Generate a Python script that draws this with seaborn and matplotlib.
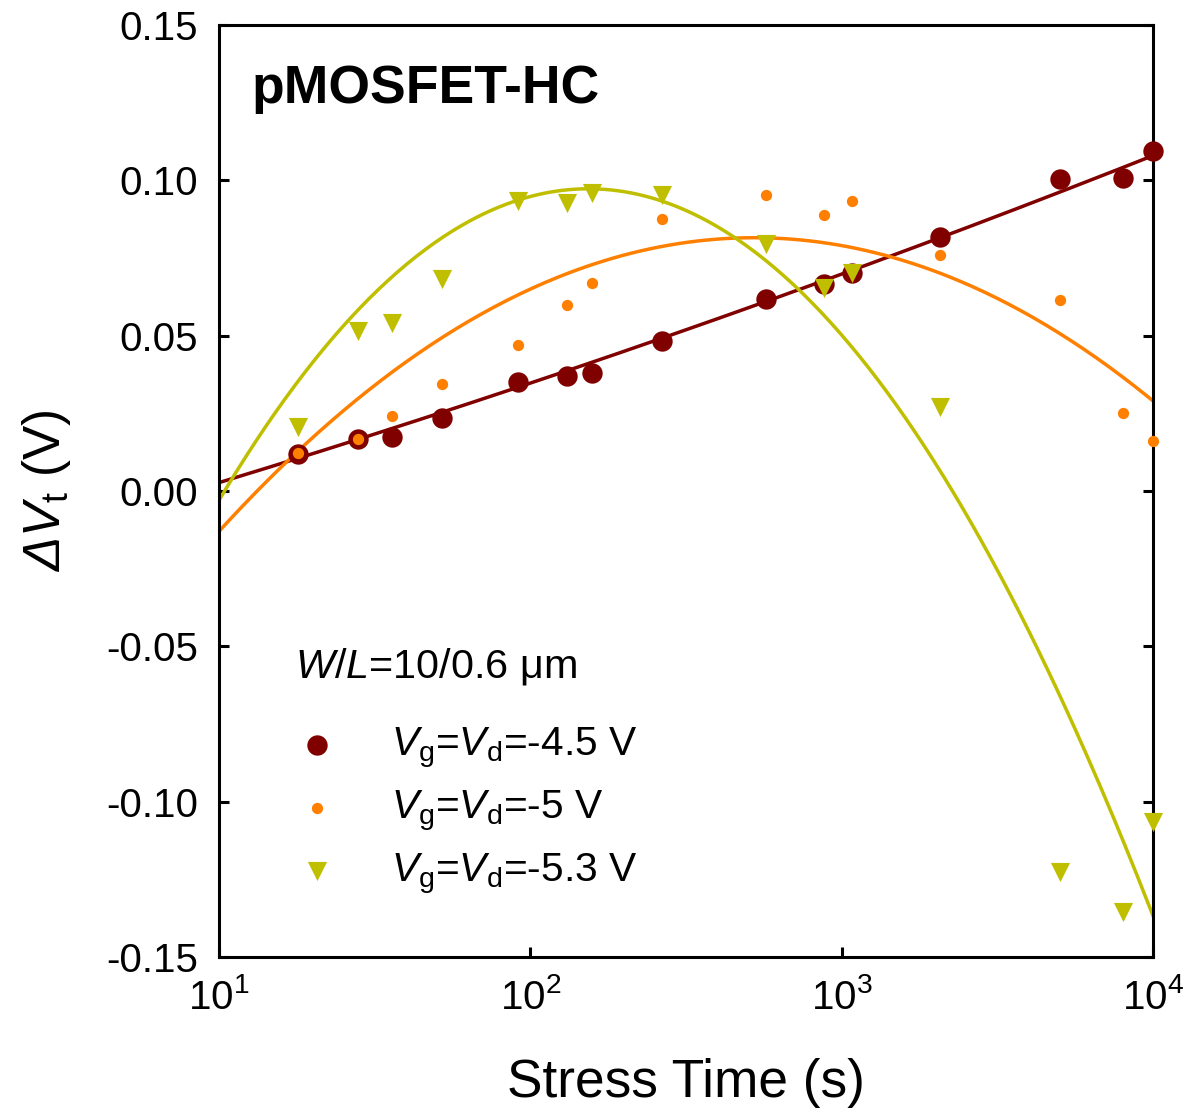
import numpy as np
import pandas as pd
import seaborn as sns
import matplotlib
matplotlib.use("Agg")
import matplotlib.pyplot as plt
from matplotlib.ticker import FixedLocator, NullLocator, StrMethodFormatter, LogFormatterMathtext

# ---- data ----
time_s = [18, 28, 36, 52, 91, 131, 158, 264, 572, 875, 1081, 2070, 5020, 8000, 10000]
dvt_vg45 = [0.0119, 0.0168, 0.0174, 0.0235, 0.0352, 0.0371, 0.0380, 0.0484, 0.0619,
            0.0665, 0.0703, 0.0819, 0.1003, 0.1006, 0.1094]
dvt_vg50 = [0.0123, 0.0168, 0.0242, 0.0345, 0.0471, 0.0600, 0.0668, 0.0877, 0.0952,
            0.0887, 0.0932, 0.0761, 0.0616, 0.0252, 0.0161]
dvt_vg53 = [0.0206, 0.0516, 0.0542, 0.0684, 0.0935, 0.0926, 0.0958, 0.0952, 0.0794,
            0.0655, 0.0703, 0.0271, -0.1226, -0.1356, -0.1065]
series_labels = [r"$V_\mathrm{g}$=$V_\mathrm{d}$=-4.5 V",
                 r"$V_\mathrm{g}$=$V_\mathrm{d}$=-5 V",
                 r"$V_\mathrm{g}$=$V_\mathrm{d}$=-5.3 V"]
# fitted curves as drawn in the reference: y = c0 + c1*u + c2*u^2, u = log10(t) - 1
fit_vg45 = [0.0027, 0.0305, 0.00153]
fit_vg50 = [-0.0130, 0.1100, -0.0320]
fit_vg53 = [-0.0030, 0.1690, -0.0712]
y_ticks = [-0.15, -0.10, -0.05, 0.00, 0.05, 0.10, 0.15]
x_ticks = [10, 100, 1000, 10000]

colors = ["#800000", "#FF8000", "#BFBF00"]
markers = ["o", "o", "v"]
msizes = [215, 66, 190]

sns.set_style("white")
plt.rcParams["font.family"] = ["Liberation Sans", "DejaVu Sans"]
plt.rcParams["mathtext.fontset"] = "custom"
plt.rcParams["mathtext.rm"] = "Liberation Sans"
plt.rcParams["mathtext.it"] = "Liberation Sans:italic"
plt.rcParams["mathtext.sf"] = "Liberation Sans:italic"
plt.rcParams["mathtext.bf"] = "Liberation Sans:bold"
plt.rcParams["axes.unicode_minus"] = False
plt.rcParams["text.color"] = "black"
plt.rcParams["axes.labelcolor"] = "black"
plt.rcParams["xtick.color"] = "black"
plt.rcParams["ytick.color"] = "black"

fig = plt.figure(figsize=(11.94, 11.12), dpi=100)
ax = fig.add_axes([0.1834, 0.1394, 0.7823, 0.8381])
ax.set_xscale("log")

all_y = [dvt_vg45, dvt_vg50, dvt_vg53]
all_fit = [fit_vg45, fit_vg50, fit_vg53]
tfit = np.logspace(1, 4, 300)
ufit = np.log10(tfit) - 1
for yv, fc, lab, c, m, s in zip(all_y, all_fit, series_labels, colors, markers, msizes):
    df = pd.DataFrame({"t": time_s, "v": yv})
    fit_df = pd.DataFrame({"t": tfit, "v": fc[0] + fc[1] * ufit + fc[2] * ufit ** 2})
    sns.lineplot(data=fit_df, x="t", y="v", ax=ax, color=c, lw=2.5, legend=False, zorder=2)
    sns.scatterplot(data=df, x="t", y="v", ax=ax, color=c, marker=m, s=s,
                    linewidth=0, label=lab, zorder=3, clip_on=False)

ax.set_xlim(10, 10000)
ax.set_ylim(-0.15, 0.15)
ax.xaxis.set_major_locator(FixedLocator(x_ticks))
ax.xaxis.set_minor_locator(NullLocator())
ax.xaxis.set_major_formatter(LogFormatterMathtext())
ax.yaxis.set_major_locator(FixedLocator(y_ticks))
ax.yaxis.set_major_formatter(StrMethodFormatter("{x:.2f}"))

for sp in ax.spines.values():
    sp.set_linewidth(2.2)
    sp.set_color("black")
ax.tick_params(axis="both", which="major", direction="in", length=7, width=2.2,
               labelsize=29, colors="black", pad=15)
ax.tick_params(axis="y", right=True, left=True)
ax.tick_params(axis="x", bottom=True, top=False)

ax.set_xlabel("Stress Time (s)", fontsize=38.3, labelpad=30)
ax.set_ylabel(r"$\mathsf{Δ}\mathit{V}_\mathrm{t}$ (V)", fontsize=37, labelpad=24)

ax.text(0.0353, 0.916, "pMOSFET-HC", transform=ax.transAxes, fontsize=38.5,
        fontweight="bold", va="baseline", ha="left")
ax.text(0.0814, 0.300, r"$\mathit{W/L}$=10/0.6 μm", transform=ax.transAxes,
        fontsize=29.8, va="baseline", ha="left")

leg = ax.legend(loc="center left", bbox_to_anchor=(0.0835, 0.157), frameon=False,
                fontsize=29.3, handlelength=1.0, handletextpad=1.3, labelspacing=0.45,
                borderpad=0, borderaxespad=0)

fig.savefig("out.png", dpi=100)
